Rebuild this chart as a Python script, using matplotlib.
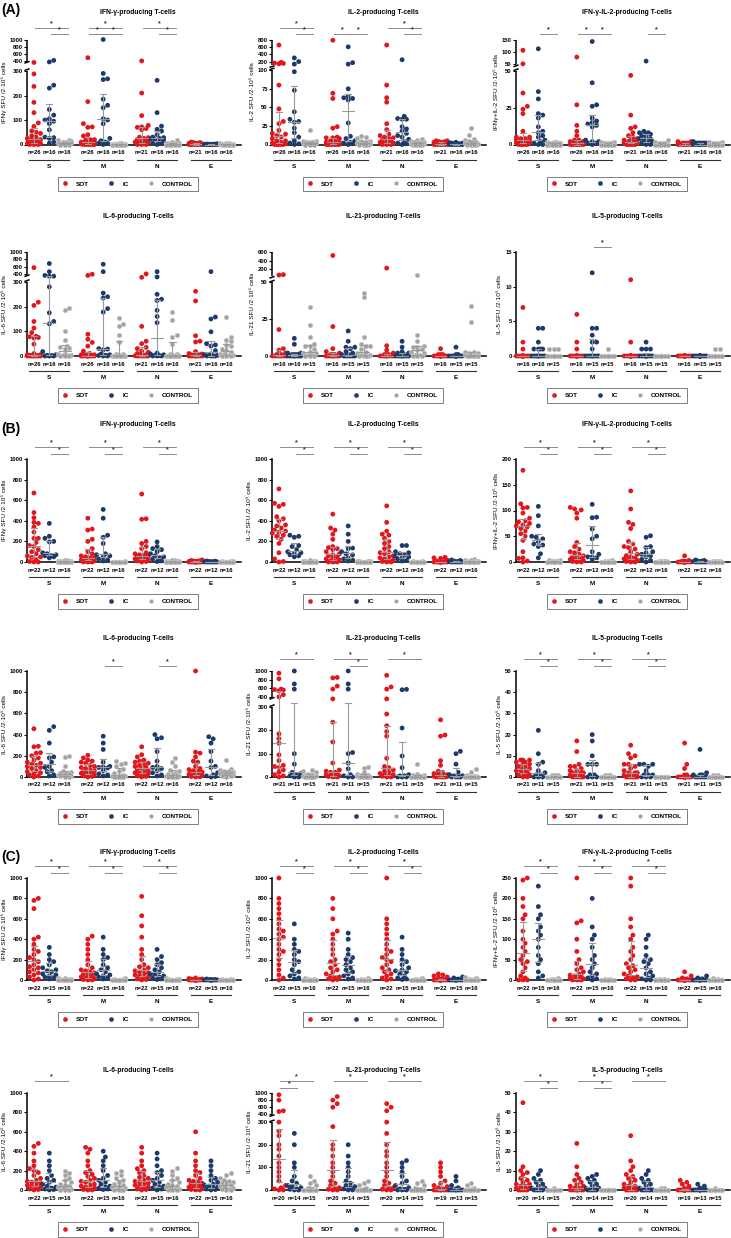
import numpy as np
import matplotlib
matplotlib.use('Agg')
import matplotlib.pyplot as plt
from matplotlib.lines import Line2D
from matplotlib.ticker import FixedLocator, FixedFormatter, NullLocator

plt.rcParams['font.family'] = ['Liberation Sans', 'DejaVu Sans']
plt.rcParams['font.weight'] = 'bold'

clusters = ['S', 'M', 'N', 'E']
groups = ['SOT', 'IC', 'CONTROL']
titles = ['IFN-γ-producing T-cells', 'IL-2-producing T-cells', 'IFN-γ-IL-2-producing T-cells',
          'IL-6-producing T-cells', 'IL-21-producing T-cells', 'IL-5-producing T-cells']
ylabels = ['IFNγ SFU /2·10⁵ cells', 'IL-2 SFU /2·10⁵ cells', 'IFNγ+IL-2 SFU /2·10⁵ cells',
           'IL-6 SFU /2·10⁵ cells', 'IL-21 SFU /2·10⁵ cells', 'IL-5 SFU /2·10⁵ cells']

# ---------------- (A) ----------------
a_ifn_sot = [[385, 288, 237, 172, 130, 88, 74, 55, 50, 45, 35, 30, 25, 20, 20, 15, 12, 10, 8, 5, 5, 3, 2, 0, 0, 0],
             [490, 175, 85, 72, 70, 40, 35, 20, 20, 18, 15, 12, 10, 10, 8, 5, 5, 5, 3, 2, 0, 0, 0, 0, 0, 0],
             [400, 210, 118, 78, 72, 70, 65, 60, 30, 28, 25, 20, 15, 12, 10, 8, 5, 3, 0, 0, 0],
             [10, 8, 8, 5, 5, 5, 3, 3, 2, 2, 1, 1, 0, 0, 0, 0, 0, 0, 0, 0, 0]]
a_ifn_ic = [[415, 390, 242, 230, 143, 120, 105, 100, 95, 85, 60, 30, 28, 25, 10, 5],
            [1000, 290, 268, 265, 185, 160, 150, 105, 100, 85, 25, 15, 10, 5, 5, 0],
            [262, 130, 75, 62, 55, 40, 30, 28, 25, 22, 20, 15, 10, 5, 3, 0],
            [3, 2, 2, 1, 1, 1, 0, 0, 0, 0, 0, 0, 0, 0, 0, 0]]
a_ifn_con = [[20, 18, 15, 12, 10, 10, 8, 8, 5, 5, 5, 3, 2, 0, 0, 0],
             [5, 5, 4, 3, 3, 2, 2, 1, 1, 0, 0, 0, 0, 0, 0, 0],
             [20, 10, 8, 5, 5, 3, 2, 2, 1, 0, 0, 0, 0, 0, 0, 0],
             [8, 6, 5, 4, 3, 3, 2, 2, 1, 1, 0, 0, 0, 0, 0, 0]]
a_ifn_n = [[26, 16, 16], [26, 16, 16], [21, 16, 16], [21, 16, 16]]
a_ifn_sig = [(0, 0, 2, 1), (0, 1, 2, 0), (1, 0, 2, 1), (1, 0, 1, 0), (1, 1, 2, 0), (2, 0, 2, 1), (2, 1, 2, 0)]

a_il2_sot = [[650, 180, 160, 150, 140, 80, 48, 31, 28, 19, 15, 14, 12, 10, 8, 5, 5, 3, 2, 2, 1, 0, 0, 0, 0, 0],
             [780, 69, 62, 24, 22, 10, 9, 9, 8, 5, 5, 4, 3, 3, 2, 2, 1, 1, 1, 0, 0, 0, 0, 0, 0, 0],
             [650, 80, 63, 57, 28, 20, 14, 12, 10, 9, 8, 6, 5, 4, 3, 2, 1, 1, 0, 0, 0],
             [5, 5, 4, 4, 3, 3, 3, 2, 2, 2, 1, 1, 1, 0, 0, 0, 0, 0, 0, 0, 0]]
a_il2_ic = [[300, 200, 130, 98, 73, 44, 34, 31, 30, 22, 16, 10, 5, 2, 1, 0],
            [600, 170, 130, 75, 65, 63, 62, 60, 29, 11, 8, 5, 3, 2, 1, 0],
            [250, 38, 35, 34, 34, 24, 21, 18, 15, 12, 10, 7, 4, 2, 1, 0],
            [3, 2, 2, 2, 1, 1, 1, 1, 0, 0, 0, 0, 0, 0, 0, 0]]
a_il2_con = [[20, 5, 5, 4, 4, 3, 3, 3, 2, 2, 2, 1, 1, 0, 0, 0],
             [11, 10, 9, 5, 5, 4, 3, 3, 2, 2, 1, 1, 0, 0, 0, 0],
             [7, 6, 5, 4, 4, 3, 3, 2, 2, 1, 1, 0, 0, 0, 0, 0],
             [22, 13, 8, 6, 5, 4, 3, 3, 2, 2, 1, 1, 0, 0, 0, 0]]
a_il2_n = [[26, 16, 16], [26, 16, 16], [21, 16, 16], [21, 16, 16]]
a_il2_sig = [(0, 0, 2, 1), (0, 1, 2, 0), (1, 0, 1, 0), (1, 1, 2, 0), (2, 0, 2, 1), (2, 1, 2, 0)]

a_dual_sot = [[107, 53, 35, 26, 24, 21, 9, 5, 5, 4, 4, 3, 3, 3, 2, 2, 2, 1, 1, 1, 1, 0, 0, 0, 0, 0],
              [80, 27, 13, 9, 6, 3, 3, 2, 2, 2, 1, 1, 1, 1, 1, 0, 0, 0, 0, 0, 0, 0, 0, 0, 0, 0],
              [47, 20, 12, 11, 8, 6, 5, 4, 3, 3, 2, 2, 2, 1, 1, 1, 0, 0, 0, 0, 0],
              [2, 2, 1, 1, 1, 1, 0, 0, 0, 0, 0, 0, 0, 0, 0, 0, 0, 0, 0, 0, 0]]
a_dual_ic = [[113, 36, 31, 21, 20, 18, 12, 9, 8, 6, 5, 3, 2, 1, 0, 0],
             [142, 42, 27, 26, 18, 16, 15, 14, 13, 12, 3, 2, 2, 1, 1, 0],
             [64, 9, 8, 8, 7, 7, 6, 5, 4, 4, 3, 2, 2, 1, 0, 0],
             [2, 1, 1, 1, 1, 1, 1, 0, 0, 0, 0, 0, 0, 0, 0, 0]]
a_dual_con = [[2, 2, 2, 1, 1, 1, 1, 1, 1, 0, 0, 0, 0, 0, 0, 0],
              [2, 2, 1, 1, 1, 1, 1, 0, 0, 0, 0, 0, 0, 0, 0, 0],
              [3, 2, 1, 1, 1, 1, 0, 0, 0, 0, 0, 0, 0, 0, 0, 0],
              [2, 2, 1, 1, 1, 1, 0, 0, 0, 0, 0, 0, 0, 0, 0, 0]]
a_dual_n = [[26, 16, 16], [26, 16, 16], [21, 16, 16], [21, 16, 16]]
a_dual_sig = [(0, 1, 2, 0), (1, 0, 1, 0), (1, 1, 2, 0), (2, 1, 2, 0)]

a_il6_sot = [[580, 218, 205, 140, 113, 95, 80, 78, 75, 73, 48, 10, 5, 5, 3, 2, 2, 1, 1, 0, 0, 0, 0, 0, 0, 0],
             [400, 385, 88, 68, 55, 40, 20, 10, 8, 5, 5, 3, 2, 2, 1, 1, 0, 0, 0, 0, 0, 0, 0, 0, 0, 0],
             [410, 360, 120, 60, 50, 35, 30, 20, 15, 10, 5, 5, 3, 2, 1, 0, 0, 0, 0, 0, 0],
             [262, 223, 82, 60, 57, 18, 10, 8, 5, 5, 3, 2, 1, 0, 0, 0, 0, 0, 0, 0, 0]]
a_il6_ic = [[690, 470, 385, 375, 375, 280, 175, 140, 130, 18, 5, 3, 2, 0, 0, 0],
            [670, 470, 255, 240, 235, 192, 178, 30, 28, 25, 8, 5, 3, 2, 0, 0],
            [470, 365, 250, 230, 225, 185, 160, 135, 12, 8, 5, 3, 2, 0, 0, 0],
            [470, 158, 150, 98, 50, 45, 40, 22, 8, 5, 3, 2, 0, 0, 0, 0]]
a_il6_con = [[193, 188, 100, 65, 40, 35, 33, 30, 10, 8, 5, 5, 3, 2, 0, 0],
             [155, 130, 120, 85, 55, 10, 8, 5, 3, 2, 1, 0, 0, 0, 0, 0],
             [178, 145, 85, 75, 48, 10, 8, 5, 3, 2, 0, 0, 0, 0, 0, 0],
             [158, 78, 65, 60, 45, 40, 30, 25, 15, 10, 8, 5, 3, 2, 0, 0]]
a_il6_n = [[26, 16, 16], [26, 16, 16], [21, 16, 16], [21, 16, 16]]
a_il6_sig = []

a_il21_sot = [[80, 70, 18, 5, 4, 2, 1, 1, 1, 0, 0, 0, 0, 0, 0, 0],
              [520, 20, 5, 3, 2, 1, 1, 1, 0, 0, 0, 0, 0, 0, 0, 0],
              [230, 7, 4, 2, 1, 1, 1, 0, 0, 0, 0, 0, 0, 0, 0, 0],
              [5, 1, 1, 1, 0, 0, 0, 0, 0, 0, 0, 0, 0, 0, 0, 0]]
a_il21_ic = [[12, 8, 2, 2, 1, 1, 1, 1, 0, 0, 0, 0, 0, 0, 0, 0],
             [17, 10, 6, 6, 5, 3, 2, 1, 1, 0, 0, 0, 0, 0, 0],
             [10, 6, 3, 2, 2, 1, 1, 0, 0, 0, 0, 0, 0, 0, 0],
             [6, 1, 1, 0, 0, 0, 0, 0, 0, 0, 0, 0, 0, 0, 0]]
a_il21_con = [[33, 21, 13, 8, 7, 7, 5, 3, 2, 2, 1, 1, 0, 0, 0],
              [43, 40, 13, 8, 7, 7, 5, 3, 2, 1, 1, 0, 0, 0, 0],
              [70, 14, 10, 7, 6, 6, 5, 4, 3, 2, 1, 1, 0, 0, 0],
              [34, 23, 3, 3, 2, 2, 1, 1, 1, 0, 0, 0, 0, 0, 0]]
a_il21_n = [[16, 16, 15], [16, 15, 15], [16, 15, 15], [16, 15, 15]]
a_il21_sig = []

a_il5_sot = [[7, 2, 1, 0, 0, 0, 0, 0, 0, 0, 0, 0, 0, 0, 0, 0],
             [6, 2, 1, 0, 0, 0, 0, 0, 0, 0, 0, 0, 0, 0, 0, 0],
             [11, 2, 0, 0, 0, 0, 0, 0, 0, 0, 0, 0, 0, 0, 0, 0],
             [0, 0, 0, 0, 0, 0, 0, 0, 0, 0, 0, 0, 0, 0, 0, 0]]
a_il5_ic = [[4, 4, 2, 1, 1, 1, 1, 0, 0, 0, 0, 0, 0, 0, 0, 0],
            [12, 4, 4, 3, 2, 2, 1, 0, 0, 0, 0, 0, 0, 0, 0],
            [2, 1, 1, 1, 0, 0, 0, 0, 0, 0, 0, 0, 0, 0, 0],
            [0, 0, 0, 0, 0, 0, 0, 0, 0, 0, 0, 0, 0, 0, 0]]
a_il5_con = [[1, 1, 1, 0, 0, 0, 0, 0, 0, 0, 0, 0, 0, 0, 0],
             [1, 0, 0, 0, 0, 0, 0, 0, 0, 0, 0, 0, 0, 0, 0],
             [0, 0, 0, 0, 0, 0, 0, 0, 0, 0, 0, 0, 0, 0, 0],
             [1, 1, 0, 0, 0, 0, 0, 0, 0, 0, 0, 0, 0, 0, 0]]
a_il5_n = [[16, 16, 15], [16, 15, 15], [16, 15, 15], [16, 15, 15]]
a_il5_sig = [(1, 1, 2, 0)]

# ---------------- (B) ----------------
b_ifn_sot = [[670, 480, 430, 385, 375, 340, 290, 230, 230, 190, 160, 150, 120, 100, 80, 60, 50, 45, 20, 5, 0, 0],
             [425, 320, 310, 220, 200, 130, 100, 80, 60, 50, 40, 40, 35, 30, 25, 20, 15, 10, 5, 0, 0, 0],
             [660, 420, 415, 200, 180, 150, 130, 90, 80, 70, 60, 60, 55, 50, 40, 30, 25, 20, 15, 10, 5, 0],
             [20, 15, 12, 10, 8, 5, 5, 3, 3, 2, 2, 1, 1, 0, 0, 0, 0, 0, 0, 0, 0, 0]]
b_ifn_ic = [[375, 250, 230, 200, 195, 90, 80, 70, 65, 60, 50, 40],
            [510, 425, 260, 240, 180, 80, 70, 60, 50, 30, 20, 10],
            [195, 150, 130, 120, 100, 80, 60, 50, 40, 30, 10, 5],
            [10, 8, 5, 3, 2, 1, 0, 0, 0, 0, 0, 0]]
b_ifn_con = [[20, 15, 10, 10, 8, 5, 5, 3, 3, 2, 2, 1, 0, 0, 0, 0],
             [5, 3, 2, 2, 1, 1, 0, 0, 0, 0, 0, 0, 0, 0, 0, 0],
             [20, 15, 10, 8, 5, 5, 3, 2, 1, 0, 0, 0, 0, 0, 0, 0],
             [10, 8, 5, 3, 2, 1, 0, 0, 0, 0, 0, 0, 0, 0, 0, 0]]
b_ifn_n = [[22, 12, 16], [22, 12, 16], [22, 12, 16], [22, 12, 16]]
b_ifn_sig = [(0, 0, 2, 1), (0, 1, 2, 0), (1, 0, 2, 1), (1, 1, 2, 0), (2, 0, 2, 1), (2, 1, 2, 0)]

b_il2_sot = [[710, 570, 560, 540, 440, 420, 400, 360, 350, 330, 310, 300, 290, 280, 260, 250, 220, 180, 90, 30, 5, 0],
             [465, 330, 310, 270, 220, 150, 140, 130, 120, 100, 80, 70, 60, 50, 40, 30, 20, 10, 5, 0, 0, 0],
             [545, 385, 300, 270, 260, 230, 200, 180, 150, 130, 100, 90, 80, 60, 50, 40, 30, 20, 10, 5, 0, 0],
             [45, 40, 35, 20, 10, 5, 3, 2, 1, 0, 0, 0, 0, 0, 0, 0, 0, 0, 0, 0, 0, 0]]
b_il2_ic = [[260, 250, 240, 160, 150, 120, 100, 90, 80, 70, 60, 50],
            [350, 270, 200, 135, 130, 100, 80, 70, 40, 30, 20, 10],
            [160, 160, 100, 90, 80, 70, 60, 50, 40, 30, 20, 10],
            [20, 15, 10, 5, 3, 2, 1, 0, 0, 0, 0, 0]]
b_il2_con = [[15, 10, 8, 5, 5, 3, 2, 1, 0, 0, 0, 0, 0, 0, 0, 0],
             [10, 8, 5, 5, 3, 2, 1, 0, 0, 0, 0, 0, 0, 0, 0, 0],
             [8, 5, 3, 2, 1, 0, 0, 0, 0, 0, 0, 0, 0, 0, 0, 0],
             [25, 20, 15, 10, 8, 5, 3, 2, 1, 0, 0, 0, 0, 0, 0, 0]]
b_il2_n = [[22, 12, 16], [22, 12, 16], [22, 12, 16], [22, 12, 16]]
b_il2_sig = [(0, 0, 2, 1), (0, 1, 2, 0), (1, 0, 2, 1), (1, 1, 2, 0), (2, 0, 2, 1), (2, 1, 2, 0)]

b_dual_sot = [[178, 113, 106, 105, 95, 85, 80, 78, 75, 72, 70, 68, 65, 60, 55, 50, 42, 20, 8, 7, 2, 0],
              [106, 103, 101, 95, 85, 38, 30, 25, 20, 18, 15, 12, 10, 8, 6, 5, 5, 3, 2, 1, 0, 0],
              [138, 103, 77, 73, 65, 40, 35, 30, 28, 25, 20, 15, 12, 10, 8, 6, 5, 3, 2, 1, 0, 0],
              [12, 3, 2, 1, 1, 0, 0, 0, 0, 0, 0, 0, 0, 0, 0, 0, 0, 0, 0, 0, 0, 0]]
b_dual_ic = [[108, 90, 70, 50, 48, 45, 40, 35, 33, 30, 16, 8],
             [112, 87, 86, 64, 50, 45, 20, 15, 10, 10, 8, 5],
             [51, 48, 30, 28, 20, 18, 15, 12, 10, 5, 3, 0],
             [4, 3, 2, 2, 1, 1, 0, 0, 0, 0, 0, 0]]
b_dual_con = [[3, 3, 2, 2, 1, 1, 0, 0, 0, 0, 0, 0, 0, 0, 0, 0],
              [3, 2, 1, 1, 0, 0, 0, 0, 0, 0, 0, 0, 0, 0, 0, 0],
              [2, 2, 1, 1, 0, 0, 0, 0, 0, 0, 0, 0, 0, 0, 0, 0],
              [2, 2, 1, 1, 0, 0, 0, 0, 0, 0, 0, 0, 0, 0, 0, 0]]
b_dual_n = [[22, 12, 16], [22, 12, 16], [22, 12, 16], [22, 12, 16]]
b_dual_sig = [(0, 0, 2, 1), (0, 1, 2, 0), (1, 0, 2, 1), (1, 1, 2, 0), (2, 0, 2, 1), (2, 1, 2, 0)]

b_il6_sot = [[455, 290, 285, 230, 225, 200, 180, 160, 140, 130, 120, 110, 100, 90, 80, 60, 50, 40, 30, 20, 10, 0],
             [205, 180, 160, 150, 140, 130, 110, 100, 90, 80, 70, 60, 50, 45, 40, 35, 30, 20, 15, 10, 5, 0],
             [285, 210, 190, 160, 150, 140, 130, 120, 110, 100, 90, 80, 70, 60, 50, 40, 35, 30, 20, 10, 5, 0],
             [1000, 235, 225, 190, 150, 140, 100, 80, 70, 60, 50, 45, 40, 35, 30, 25, 20, 15, 10, 5, 2, 0]]
b_il6_ic = [[475, 440, 320, 190, 180, 140, 100, 90, 60, 50, 20, 10],
            [385, 320, 260, 140, 100, 95, 90, 85, 60, 30, 20, 10],
            [400, 370, 360, 240, 150, 100, 90, 80, 60, 40, 20, 10],
            [380, 360, 320, 240, 150, 100, 90, 40, 20, 10, 5, 0]]
b_il6_con = [[195, 190, 100, 60, 50, 40, 35, 30, 25, 20, 15, 10, 8, 5, 3, 0],
             [150, 130, 120, 100, 80, 60, 40, 20, 10, 5, 5, 3, 2, 0, 0, 0],
             [180, 140, 100, 70, 60, 40, 30, 20, 15, 10, 8, 5, 3, 0, 0, 0],
             [160, 80, 70, 60, 55, 50, 45, 40, 35, 30, 25, 20, 15, 10, 5, 0]]
b_il6_n = [[22, 12, 16], [22, 12, 16], [22, 12, 16], [22, 12, 16]]
b_il6_sig = [(1, 1, 2, 0), (2, 1, 2, 0)]

b_il21_sot = [[950, 820, 580, 570, 560, 540, 450, 400, 185, 165, 145, 95, 70, 50, 45, 40, 30, 20, 10, 5, 0],
              [850, 840, 650, 580, 380, 235, 150, 60, 30, 25, 20, 20, 15, 10, 10, 5, 5, 3, 2, 0, 0],
              [900, 630, 580, 380, 270, 220, 195, 175, 80, 45, 40, 30, 25, 20, 15, 10, 10, 5, 3, 0, 0],
              [245, 180, 175, 70, 50, 25, 20, 15, 10, 10, 8, 5, 5, 3, 3, 2, 1, 0, 0, 0, 0]]
b_il21_ic = [[1000, 700, 580, 100, 55, 20, 15, 10, 5, 0, 0],
             [1000, 700, 580, 105, 100, 60, 35, 10, 5, 0, 0],
             [575, 565, 210, 90, 40, 10, 5, 5, 0, 0, 0],
             [110, 100, 55, 20, 10, 5, 5, 0, 0, 0, 0]]
b_il21_con = [[30, 25, 20, 15, 10, 10, 8, 5, 5, 3, 2, 0, 0, 0, 0],
              [45, 40, 20, 15, 10, 8, 5, 5, 3, 2, 0, 0, 0, 0, 0],
              [55, 15, 10, 8, 5, 5, 3, 2, 0, 0, 0, 0, 0, 0, 0],
              [35, 22, 10, 5, 5, 3, 2, 0, 0, 0, 0, 0, 0, 0, 0]]
b_il21_n = [[21, 11, 15], [21, 11, 15], [21, 11, 15], [21, 11, 15]]
b_il21_sig = [(0, 0, 2, 1), (1, 0, 2, 1), (1, 1, 2, 0), (2, 0, 2, 1)]

b_il5_sot = [[8, 8, 8, 7, 7, 6, 6, 5, 5, 4, 4, 3, 3, 3, 2, 2, 1, 1, 1, 0, 0],
             [17, 12, 6, 5, 5, 4, 3, 3, 2, 2, 2, 1, 1, 1, 1, 0, 0, 0, 0, 0, 0],
             [15, 11, 10, 9, 6, 6, 5, 4, 3, 2, 2, 2, 1, 1, 1, 0, 0, 0, 0, 0, 0],
             [16, 6, 4, 1, 1, 0, 0, 0, 0, 0, 0, 0, 0, 0, 0, 0, 0, 0, 0, 0, 0]]
b_il5_ic = [[22, 11, 7, 6, 3, 2, 1, 1, 0, 0, 0],
            [20, 17, 10, 6, 6, 6, 1, 1, 0, 0, 0],
            [6, 6, 6, 5, 3, 1, 1, 1, 0, 0, 0],
            [13, 2, 1, 1, 1, 0, 0, 0, 0, 0, 0]]
b_il5_con = [[1, 1, 1, 1, 0, 0, 0, 0, 0, 0, 0, 0, 0, 0, 0],
             [1, 1, 1, 0, 0, 0, 0, 0, 0, 0, 0, 0, 0, 0, 0],
             [0, 0, 0, 0, 0, 0, 0, 0, 0, 0, 0, 0, 0, 0, 0],
             [1, 1, 1, 0, 0, 0, 0, 0, 0, 0, 0, 0, 0, 0, 0]]
b_il5_n = [[21, 11, 15], [21, 11, 15], [21, 11, 15], [21, 11, 15]]
b_il5_sig = [(0, 0, 2, 1), (0, 1, 2, 0), (1, 0, 2, 1), (1, 1, 2, 0), (2, 0, 2, 1), (2, 1, 2, 0)]

# ---------------- (C) ----------------
c_ifn_sot = [[800, 780, 700, 420, 400, 350, 300, 280, 250, 220, 200, 180, 150, 130, 120, 100, 80, 70, 50, 30, 10, 0],
             [430, 400, 350, 300, 250, 200, 150, 120, 100, 90, 80, 70, 60, 50, 40, 30, 20, 15, 10, 5, 0, 0],
             [820, 630, 530, 420, 300, 250, 200, 150, 130, 120, 100, 90, 80, 70, 60, 50, 40, 30, 20, 10, 5, 0],
             [20, 15, 10, 8, 5, 3, 2, 1, 0, 0, 0, 0, 0, 0, 0, 0, 0, 0, 0, 0, 0, 0]]
c_ifn_ic = [[320, 250, 200, 180, 150, 120, 100, 90, 80, 60, 50, 40, 30, 20, 10],
            [420, 300, 250, 220, 200, 150, 120, 100, 80, 60, 50, 40, 30, 20, 10],
            [300, 230, 200, 170, 150, 120, 100, 80, 60, 50, 40, 30, 20, 10, 5],
            [10, 5, 3, 2, 1, 0, 0, 0, 0, 0, 0, 0, 0, 0, 0]]
c_ifn_con = [[20, 15, 10, 8, 5, 3, 2, 1, 0, 0, 0, 0, 0, 0, 0, 0],
             [15, 10, 5, 3, 2, 1, 0, 0, 0, 0, 0, 0, 0, 0, 0, 0],
             [20, 10, 8, 5, 3, 2, 1, 0, 0, 0, 0, 0, 0, 0, 0, 0],
             [10, 5, 3, 2, 1, 0, 0, 0, 0, 0, 0, 0, 0, 0, 0, 0]]
c_ifn_n = [[22, 15, 16], [22, 15, 16], [22, 15, 16], [22, 15, 16]]
c_ifn_sig = [(0, 0, 2, 1), (0, 1, 2, 0), (1, 0, 2, 1), (1, 1, 2, 0), (2, 0, 2, 1), (2, 1, 2, 0)]

c_il2_sot = [[1000, 800, 750, 700, 650, 600, 550, 500, 480, 450, 420, 400, 350, 300, 280, 250, 200, 150, 100, 50, 20, 0],
             [800, 700, 600, 480, 450, 400, 350, 300, 250, 200, 180, 150, 120, 100, 80, 60, 40, 30, 20, 10, 5, 0],
             [1000, 600, 550, 500, 450, 400, 350, 300, 280, 250, 220, 200, 180, 150, 120, 100, 80, 60, 40, 20, 10, 0],
             [60, 50, 40, 30, 20, 10, 5, 0, 0, 0, 0, 0, 0, 0, 0, 0, 0, 0, 0, 0, 0, 0]]
c_il2_ic = [[550, 400, 350, 300, 280, 250, 200, 180, 150, 100, 80, 60, 40, 20, 10],
            [460, 400, 300, 250, 220, 200, 180, 150, 120, 100, 80, 60, 40, 20, 10],
            [420, 300, 250, 200, 180, 150, 120, 100, 90, 80, 60, 40, 20, 10, 5],
            [30, 20, 10, 5, 0, 0, 0, 0, 0, 0, 0, 0, 0, 0, 0]]
c_il2_con = [[20, 10, 5, 3, 2, 0, 0, 0, 0, 0, 0, 0, 0, 0, 0, 0],
             [20, 10, 5, 3, 0, 0, 0, 0, 0, 0, 0, 0, 0, 0, 0, 0],
             [15, 10, 5, 2, 0, 0, 0, 0, 0, 0, 0, 0, 0, 0, 0, 0],
             [30, 20, 10, 5, 3, 0, 0, 0, 0, 0, 0, 0, 0, 0, 0, 0]]
c_il2_n = [[22, 15, 16], [22, 15, 16], [22, 15, 16], [22, 15, 16]]
c_il2_sig = [(0, 0, 2, 1), (0, 1, 2, 0), (1, 0, 2, 1), (1, 1, 2, 0), (2, 0, 2, 1), (2, 1, 2, 0)]

c_dual_sot = [[250, 245, 200, 180, 160, 150, 120, 100, 90, 80, 70, 60, 50, 45, 40, 30, 20, 10, 5, 0, 0, 0],
              [250, 145, 140, 100, 70, 50, 40, 30, 25, 20, 15, 12, 10, 8, 5, 5, 3, 2, 1, 0, 0, 0],
              [250, 230, 150, 130, 110, 100, 80, 70, 60, 50, 40, 35, 30, 25, 20, 15, 10, 8, 5, 3, 0, 0],
              [20, 10, 5, 3, 1, 0, 0, 0, 0, 0, 0, 0, 0, 0, 0, 0, 0, 0, 0, 0, 0, 0]]
c_dual_ic = [[230, 180, 160, 150, 130, 120, 110, 100, 80, 60, 50, 40, 20, 10, 5],
             [200, 130, 110, 100, 80, 60, 50, 40, 30, 20, 15, 10, 5, 3, 0],
             [110, 100, 80, 60, 50, 45, 40, 30, 20, 15, 10, 5, 3, 0, 0],
             [10, 5, 3, 1, 0, 0, 0, 0, 0, 0, 0, 0, 0, 0, 0]]
c_dual_con = [[5, 3, 2, 1, 0, 0, 0, 0, 0, 0, 0, 0, 0, 0, 0, 0],
              [3, 2, 1, 0, 0, 0, 0, 0, 0, 0, 0, 0, 0, 0, 0, 0],
              [3, 2, 1, 0, 0, 0, 0, 0, 0, 0, 0, 0, 0, 0, 0, 0],
              [5, 3, 1, 0, 0, 0, 0, 0, 0, 0, 0, 0, 0, 0, 0, 0]]
c_dual_n = [[22, 15, 16], [22, 15, 16], [22, 15, 16], [22, 15, 16]]
c_dual_sig = [(0, 0, 2, 1), (0, 1, 2, 0), (1, 0, 2, 1), (1, 1, 2, 0), (2, 0, 2, 1), (2, 1, 2, 0)]

c_il6_sot = [[480, 450, 380, 300, 250, 220, 200, 180, 150, 120, 100, 90, 80, 70, 60, 50, 40, 30, 20, 10, 5, 0],
             [440, 420, 380, 300, 250, 200, 180, 160, 140, 120, 100, 90, 80, 60, 50, 40, 30, 20, 10, 5, 0, 0],
             [440, 380, 300, 250, 220, 200, 180, 150, 130, 120, 100, 90, 80, 70, 60, 50, 40, 30, 20, 10, 5, 0],
             [600, 380, 300, 250, 200, 180, 150, 120, 100, 90, 80, 70, 60, 50, 40, 30, 20, 15, 10, 5, 0, 0]]
c_il6_ic = [[380, 300, 250, 200, 150, 120, 100, 80, 60, 40, 30, 20, 10, 5, 0],
            [400, 340, 300, 250, 200, 150, 120, 100, 80, 60, 40, 30, 20, 10, 5],
            [380, 320, 250, 200, 180, 150, 120, 100, 80, 60, 40, 30, 20, 10, 0],
            [300, 250, 200, 150, 120, 100, 80, 60, 50, 40, 30, 20, 10, 5, 0]]
c_il6_con = [[200, 180, 150, 120, 100, 80, 60, 50, 40, 30, 20, 15, 10, 5, 0, 0],
             [200, 180, 150, 120, 100, 80, 60, 50, 40, 30, 20, 10, 5, 0, 0, 0],
             [230, 200, 150, 120, 100, 80, 60, 50, 40, 30, 20, 15, 10, 5, 0, 0],
             [180, 150, 120, 100, 90, 80, 70, 60, 50, 40, 30, 20, 15, 10, 5, 0]]
c_il6_n = [[22, 15, 16], [22, 15, 16], [22, 15, 16], [22, 15, 16]]
c_il6_sig = [(0, 0, 2, 1)]

c_il21_sot = [[950, 800, 500, 480, 300, 260, 240, 200, 180, 150, 120, 100, 80, 60, 40, 20, 10, 5, 0, 0],
              [900, 800, 700, 600, 280, 200, 180, 150, 120, 100, 80, 60, 40, 30, 20, 10, 5, 3, 0, 0],
              [700, 600, 500, 300, 250, 200, 170, 150, 120, 100, 80, 60, 40, 30, 20, 10, 5, 3, 0, 0],
              [120, 100, 80, 60, 40, 30, 20, 15, 10, 5, 3, 0, 0, 0, 0, 0, 0, 0, 0]]
c_il21_ic = [[250, 200, 120, 100, 60, 40, 30, 20, 15, 10, 5, 3, 0, 0],
             [200, 150, 120, 100, 80, 60, 40, 30, 20, 15, 10, 5, 0, 0],
             [130, 120, 100, 80, 60, 40, 30, 20, 10, 5, 3, 0, 0, 0],
             [60, 40, 20, 10, 5, 0, 0, 0, 0, 0, 0, 0, 0]]
c_il21_con = [[60, 40, 30, 20, 10, 5, 3, 0, 0, 0, 0, 0, 0, 0, 0],
              [40, 30, 20, 10, 5, 0, 0, 0, 0, 0, 0, 0, 0, 0, 0],
              [40, 30, 20, 10, 5, 3, 0, 0, 0, 0, 0, 0, 0, 0, 0],
              [30, 20, 10, 5, 0, 0, 0, 0, 0, 0, 0, 0, 0, 0, 0]]
c_il21_n = [[20, 14, 15], [20, 14, 15], [20, 14, 15], [19, 13, 15]]
c_il21_sig = [(0, 0, 2, 1), (0, 0, 1, 0), (1, 0, 2, 1), (2, 0, 2, 1)]

c_il5_sot = [[45, 12, 10, 9, 8, 6, 5, 4, 3, 3, 2, 2, 1, 1, 1, 0, 0, 0, 0, 0],
             [24, 12, 8, 6, 5, 4, 3, 2, 2, 1, 1, 1, 0, 0, 0, 0, 0, 0, 0, 0],
             [28, 15, 12, 10, 8, 7, 6, 5, 4, 3, 2, 2, 1, 1, 0, 0, 0, 0, 0, 0],
             [5, 4, 3, 2, 1, 0, 0, 0, 0, 0, 0, 0, 0, 0, 0, 0, 0, 0, 0]]
c_il5_ic = [[10, 8, 6, 5, 4, 3, 2, 1, 1, 0, 0, 0, 0, 0],
            [8, 7, 6, 5, 4, 3, 2, 1, 1, 0, 0, 0, 0, 0],
            [10, 8, 6, 5, 4, 3, 2, 1, 0, 0, 0, 0, 0, 0],
            [3, 2, 1, 0, 0, 0, 0, 0, 0, 0, 0, 0, 0]]
c_il5_con = [[1, 0, 0, 0, 0, 0, 0, 0, 0, 0, 0, 0, 0, 0, 0],
             [0, 0, 0, 0, 0, 0, 0, 0, 0, 0, 0, 0, 0, 0, 0],
             [1, 1, 0, 0, 0, 0, 0, 0, 0, 0, 0, 0, 0, 0, 0],
             [1, 0, 0, 0, 0, 0, 0, 0, 0, 0, 0, 0, 0, 0, 0]]
c_il5_n = [[20, 14, 15], [20, 14, 15], [20, 14, 15], [19, 13, 15]]
c_il5_sig = [(0, 0, 2, 1), (0, 1, 2, 0), (1, 0, 2, 1), (1, 1, 2, 0), (2, 0, 2, 1)]

# ---------------- layout (pixels) ----------------
W, H = 731, 1238
col_left = [27, 272, 516]
col_w = 214
row_top = [39.5, 252, 459, 671, 878, 1093]
row_zero = [144.5, 356, 562, 777, 980, 1190]
title_y = [13, 216, 424, 638, 853, 1070]
colors = ['#e3161c', '#1c3a6b', '#a3a3a3']
XMIN, XMAX = -1.45, 12.45
unit_px = col_w / (XMAX - XMIN)

fig = plt.figure(figsize=(W / 100, H / 100), dpi=100)


def broken(lo_top, up_bot, up_top, f1, f2):
    def fwd(y):
        y = np.asarray(y, dtype=float)
        lo = y / lo_top * f1
        gap = f1 + (y - lo_top) / (up_bot - lo_top) * (f2 - f1)
        up = f2 + (y - up_bot) / (up_top - up_bot) * (1 - f2)
        return np.where(y <= lo_top, lo, np.where(y < up_bot, gap, up))

    def inv(u):
        u = np.asarray(u, dtype=float)
        lo = u / f1 * lo_top
        gap = lo_top + (u - f1) / (f2 - f1) * (up_bot - lo_top)
        up = up_bot + (u - f2) / (1 - f2) * (up_top - up_bot)
        return np.where(u <= f1, lo, np.where(u < f2, gap, up))
    return fwd, inv


def swarm(ypx, d=4.4, step=2.2, cap=7.0):
    # simple beeswarm: place points in value order, nearest free slot
    cands = [0.0]
    k = 1
    while k * step <= cap:
        cands += [k * step, -k * step]
        k += 1
    xs = np.zeros(len(ypx))
    placed = []
    for i in np.argsort(ypx, kind='stable'):
        y = ypx[i]
        best, bestd = 0.0, -1
        for c in cands:
            md = min([np.hypot(c - px, y - py) for px, py in placed] + [1e9])
            if md >= d:
                best = c
                break
            if md > bestd:
                bestd, best = md, c
        xs[i] = best
        placed.append((best, y))
    return xs


def draw(row, col, sot, ic, con, ns, sig, scale, ticks):
    hpx = row_zero[row] - row_top[row]
    ax = fig.add_axes([col_left[col] / W, 1 - row_zero[row] / H, col_w / W, hpx / H])
    if scale[0] == 'brk':
        fwd, inv = broken(*scale[1:])
        ax.set_yscale('function', functions=(fwd, inv))
        top = scale[3]
    else:
        top = scale[1]
        fwd = lambda y: np.asarray(y, dtype=float) / top
    ax.set_ylim(0, top)
    ax.set_xlim(XMIN, XMAX)
    ax.yaxis.set_major_locator(FixedLocator(ticks))
    ax.yaxis.set_major_formatter(FixedFormatter([str(int(t)) for t in ticks]))
    ax.yaxis.set_minor_locator(NullLocator())
    ax.set_xticks([])
    ax.tick_params(axis='y', length=2, width=0.8, pad=1, labelsize=4.2)
    ax.spines[['top', 'right']].set_visible(False)
    ax.spines['bottom'].set_linewidth(1.1)
    ax.spines['left'].set_linewidth(1.1)
    ax.patch.set_alpha(0)
    if scale[0] == 'brk':
        f1, f2 = scale[4], scale[5]
        ax.spines['left'].set_visible(False)
        kw = dict(transform=ax.transAxes, color='k', lw=1.1, clip_on=False, solid_capstyle='butt')
        ax.plot([0, 0], [0, f1], **kw)
        ax.plot([0, 0], [f2, 1], **kw)
        ax.plot([-0.012, 0.012], [f1 + 0.004, f1 + 0.022], **kw)
        ax.plot([-0.012, 0.012], [f2 - 0.022, f2 - 0.004], **kw)

    data = [sot, ic, con]
    xaxis_tr = ax.get_xaxis_transform()
    for c in range(4):
        cx = c * 3.5
        for g in range(3):
            vals = np.array(data[g][c], dtype=float)
            x0 = cx + g - 1
            offs = swarm(fwd(vals) * hpx) / unit_px
            edge = '#dcdcdc' if g == 2 else 'none'
            ax.scatter(x0 + offs, vals, s=12, color=colors[g], edgecolors=edge,
                       linewidths=0.3, zorder=3, clip_on=False)
            q1, med, q3 = np.percentile(vals, [25, 50, 75])
            bkw = dict(color='#9a9a9a', lw=0.8, zorder=4, clip_on=False)
            ax.plot([x0 - 0.38, x0 + 0.38], [med, med], **bkw)
            ax.plot([x0, x0], [q1, q3], **bkw)
            ax.plot([x0 - 0.2, x0 + 0.2], [q1, q1], **bkw)
            ax.plot([x0 - 0.2, x0 + 0.2], [q3, q3], **bkw)
            ax.text(x0, -8 / hpx, 'n=%d' % ns[c][g], transform=xaxis_tr,
                    ha='center', va='center', fontsize=4.2)
        ax.plot([cx - 1.3, cx + 1.3], [-15 / hpx] * 2, transform=xaxis_tr,
                color='#333333', lw=0.8, clip_on=False)
        ax.text(cx, -21.5 / hpx, clusters[c], transform=xaxis_tr,
                ha='center', va='center', fontsize=4.6)

    for c, a, b, lev in sig:
        yf = 1 + (5.5 if lev == 0 else 12) / hpx
        xa, xb = c * 3.5 + a - 1, c * 3.5 + b - 1
        ax.plot([xa + 0.1, xb + 0.2], [yf, yf], transform=xaxis_tr,
                color='#8c8c8c', lw=0.7, clip_on=False)
        ax.text((xa + xb) / 2 + 0.15, yf + 0.3 / hpx, '*', transform=xaxis_tr,
                ha='center', va='bottom', fontsize=5, color='#333333')

    handles = [Line2D([], [], marker='o', ls='', color=colors[g], markersize=3,
                      markeredgecolor='#dcdcdc' if g == 2 else colors[g], markeredgewidth=0.3)
               for g in range(3)]
    leg = ax.legend(handles, groups, loc='upper center', bbox_to_anchor=(0.47, -29 / hpx),
                    ncol=3, fontsize=4.6, frameon=True, fancybox=False, edgecolor='#444444',
                    borderpad=0.7, columnspacing=3.0, handletextpad=1.2, handlelength=1)
    leg.get_frame().set_linewidth(0.6)

    ax.set_ylabel(ylabels[(row % 2) * 3 + col], fontsize=4.6, labelpad=2)
    fig.text((col_left[col] + col_w / 2 + 4) / W, 1 - title_y[row] / H, titles[(row % 2) * 3 + col],
             ha='center', va='center', fontsize=4.9)
    return ax


brk_300 = lambda f1, f2: ('brk', 300, 400, 1000, f1, f2)
t_300 = [0, 100, 200, 300, 400, 600, 800, 1000]
t_1000 = [0, 200, 400, 600, 800, 1000]

draw(0, 0, a_ifn_sot, a_ifn_ic, a_ifn_con, a_ifn_n, a_ifn_sig, brk_300(0.70, 0.796), t_300)
draw(0, 1, a_il2_sot, a_il2_ic, a_il2_con, a_il2_n, a_il2_sig,
     ('brk', 100, 100.5, 800, 0.707, 0.755), [0, 25, 50, 75, 100, 200, 400, 600, 800])
draw(0, 2, a_dual_sot, a_dual_ic, a_dual_con, a_dual_n, a_dual_sig,
     ('brk', 50, 50.5, 150, 0.70, 0.762), [0, 25, 50, 50.5, 100, 150])
draw(1, 0, a_il6_sot, a_il6_ic, a_il6_con, a_il6_n, a_il6_sig, brk_300(0.712, 0.786), t_300)
draw(1, 1, a_il21_sot, a_il21_ic, a_il21_con, a_il21_n, a_il21_sig,
     ('brk', 50, 50.5, 600, 0.707, 0.77), [0, 25, 50, 200, 400, 600])
draw(1, 2, a_il5_sot, a_il5_ic, a_il5_con, a_il5_n, a_il5_sig, ('lin', 15), [0, 5, 10, 15])

draw(2, 0, b_ifn_sot, b_ifn_ic, b_ifn_con, b_ifn_n, b_ifn_sig, ('lin', 1000), t_1000)
draw(2, 1, b_il2_sot, b_il2_ic, b_il2_con, b_il2_n, b_il2_sig, ('lin', 1000), t_1000)
draw(2, 2, b_dual_sot, b_dual_ic, b_dual_con, b_dual_n, b_dual_sig, ('lin', 200), [0, 50, 100, 150, 200])
draw(3, 0, b_il6_sot, b_il6_ic, b_il6_con, b_il6_n, b_il6_sig, ('lin', 1000), t_1000)
draw(3, 1, b_il21_sot, b_il21_ic, b_il21_con, b_il21_n, b_il21_sig, brk_300(0.66, 0.756), t_300)
draw(3, 2, b_il5_sot, b_il5_ic, b_il5_con, b_il5_n, b_il5_sig, ('lin', 50), [0, 10, 20, 30, 40, 50])

draw(4, 0, c_ifn_sot, c_ifn_ic, c_ifn_con, c_ifn_n, c_ifn_sig, ('lin', 1000), t_1000)
draw(4, 1, c_il2_sot, c_il2_ic, c_il2_con, c_il2_n, c_il2_sig, ('lin', 1000), t_1000)
draw(4, 2, c_dual_sot, c_dual_ic, c_dual_con, c_dual_n, c_dual_sig, ('lin', 250), [0, 50, 100, 150, 200, 250])
draw(5, 0, c_il6_sot, c_il6_ic, c_il6_con, c_il6_n, c_il6_sig, ('lin', 1000), t_1000)
draw(5, 1, c_il21_sot, c_il21_ic, c_il21_con, c_il21_n, c_il21_sig, brk_300(0.70, 0.78), t_300)
draw(5, 2, c_il5_sot, c_il5_ic, c_il5_con, c_il5_n, c_il5_sig, ('lin', 50), [0, 10, 20, 30, 40, 50])

for txt, y in [('(A)', 10), ('(B)', 429), ('(C)', 857)]:
    fig.text(1 / W, 1 - y / H, txt, ha='left', va='center', fontsize=10)

fig.savefig('out.png', dpi=100)
